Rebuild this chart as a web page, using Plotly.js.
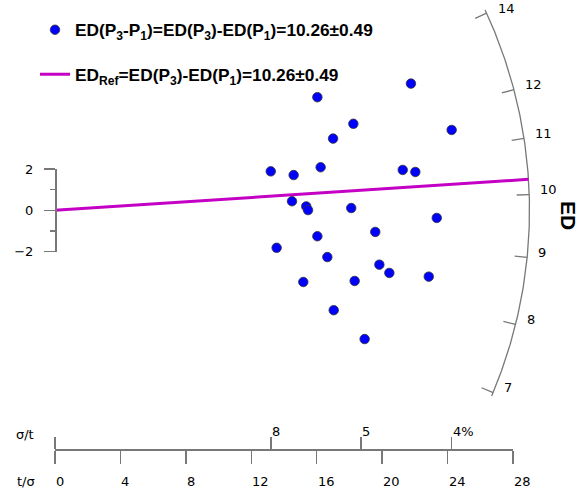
<!DOCTYPE html>
<html><head><meta charset="utf-8">
<script src="https://cdn.plot.ly/plotly-3.0.1.min.js"></script>
<style>html,body{margin:0;padding:0;background:#fff}#chart{width:580px;height:488px}</style>
</head><body><div id="chart"></div>
<script>
// ---- data ----
const tOverSigma = [21.76,16.04,18.24,24.25,17.00,13.19,14.59,16.24,21.26,22.03,14.49,15.36,15.47,18.11,23.34,19.58,16.04,13.55,16.65,19.83,20.44,15.18,18.32,22.85,17.04,18.93];
const standardizedEstimate = [6.15,5.49,4.20,3.90,3.48,1.89,1.71,2.09,1.96,1.86,0.44,0.19,0.01,0.11,-0.37,-1.05,-1.26,-1.82,-2.27,-2.64,-3.04,-3.48,-3.43,-3.22,-4.85,-6.25];
const centralED = 9.74;
const referenceED = 10.26;
const arcTickValues = [7,8,9,10,11,12,14];
const arcRange = [6.95,14.1];
const tTicks = [0,4,8,12,16,20,24,28];
const relErrTicks = [13.19,18.71,24.25];
const relErrLabels = ['8','5','4%'];
const zTicks = [-2,0,2];
const zTickText = ['\u22122','0','2'];
const pointName = 'ED(P<sub>3</sub>-P<sub>1</sub>)=ED(P<sub>3</sub>)-ED(P<sub>1</sub>)=10.26\u00b10.49';
const lineName = 'ED<sub>Ref</sub>=ED(P<sub>3</sub>)-ED(P<sub>1</sub>)=10.26\u00b10.49';

// ---- geometry ----
const W=580, H=488;
const ox=55, oy=210.3;        // origin in px
const pxX=16.357, pxY=20.6;   // px per unit
const R=474.5;                // arc radius (px)
const xr=[-ox/pxX, (W-ox)/pxX];
const yr=[(oy-H)/pxY, oy/pxY];
const z0=Math.log(centralED);
function polar(v, r){
  const s=Math.log(v)-z0;
  const phi=Math.atan2(pxY*s, pxX);
  return [r*Math.cos(phi)/pxX, r*Math.sin(phi)/pxY];
}
const axisCol='#787878';
const txtFont={family:'DejaVu Sans, Verdana, sans-serif', size:13, color:'#000'};

// arc
const arcX=[], arcY=[];
for(let i=0;i<=200;i++){
  const v=arcRange[0]*Math.pow(arcRange[1]/arcRange[0], i/200);
  const p=polar(v,R); arcX.push(p[0]); arcY.push(p[1]);
}
const tkX=[], tkY=[];
arcTickValues.forEach(v=>{
  const a=polar(v,R), b=polar(v,R-12.5);
  tkX.push(a[0],b[0],null); tkY.push(a[1],b[1],null);
});
const refEnd=polar(referenceED,R);

const traces=[
  {type:'scatter', mode:'lines', x:arcX, y:arcY, line:{color:axisCol,width:1.3}, showlegend:false, hoverinfo:'skip'},
  {type:'scatter', mode:'lines', x:tkX, y:tkY, line:{color:axisCol,width:1.3}, showlegend:false, hoverinfo:'skip'},
  {type:'scatter', mode:'lines', x:[0,refEnd[0]], y:[0,refEnd[1]], name:lineName, legendgroup:'b', legendrank:2,
   line:{color:'#c400c4', width:3}, hoverinfo:'skip'},
  {type:'scatter', mode:'markers', x:tOverSigma, y:standardizedEstimate, name:pointName, legendgroup:'a', legendrank:1,
   marker:{color:'#0000ff', size:9.5, line:{color:'#333', width:0.8}}, cliponaxis:false},
  {type:'scatter', mode:'markers', x:[null], y:[null], xaxis:'x2', yaxis:'y2', showlegend:false, hoverinfo:'skip'},
  {type:'scatter', mode:'markers', x:[null], y:[null], xaxis:'x3', yaxis:'y2', showlegend:false, hoverinfo:'skip'}
];

const annotations=[];
arcTickValues.forEach(v=>{
  const p=polar(v,R);
  annotations.push({xref:'x', yref:'y', x:p[0], y:p[1], text:String(v), showarrow:false,
    xanchor:'left', yanchor:'middle', xshift:9, yshift:5, font:txtFont});
});
tTicks.forEach(v=>{
  annotations.push({xref:'x2', yref:'paper', x:v, y:1-481/H, text:String(v), showarrow:false,
    xanchor:'left', yanchor:'middle', xshift:-1, font:txtFont});
});
relErrTicks.forEach((v,i)=>{
  annotations.push({xref:'x2', yref:'paper', x:v, y:1-431.7/H, text:relErrLabels[i], showarrow:false,
    xanchor:'left', yanchor:'middle', xshift:-1, font:txtFont});
});
annotations.push({xref:'paper', yref:'paper', x:25/W, y:1-434/H, text:'\u03c3/t', showarrow:false, xanchor:'center', yanchor:'middle', font:txtFont});
annotations.push({xref:'paper', yref:'paper', x:25.7/W, y:1-481/H, text:'t/\u03c3', showarrow:false, xanchor:'center', yanchor:'middle', font:txtFont});
annotations.push({xref:'paper', yref:'paper', x:569/W, y:1-215/H, text:'ED', textangle:90, showarrow:false, xanchor:'center', yanchor:'middle',
  font:{family:'Liberation Sans, Arial, sans-serif', size:21, color:'#000', weight:'bold'}});

const xDom=[ox/W, (ox+28*pxX)/W];
const layout={
  width:W, height:H, margin:{l:0,r:0,t:0,b:0}, paper_bgcolor:'#fff', plot_bgcolor:'rgba(0,0,0,0)',
  showlegend:true,
  xaxis:{visible:false, range:xr},
  yaxis:{visible:false, range:yr},
  xaxis2:{domain:xDom, range:[0,28], anchor:'free', position:1-449/H, showline:true, linecolor:axisCol, linewidth:1.5,
    ticks:'outside', ticklen:13, tickwidth:1.5, tickcolor:axisCol, tickmode:'array', tickvals:tTicks,
    showticklabels:false, showgrid:false, zeroline:false},
  xaxis3:{domain:xDom, range:[0,28], anchor:'free', position:1-449/H, side:'top', overlaying:'x2', showline:false,
    ticks:'outside', ticklen:12, tickwidth:1.5, tickcolor:axisCol, tickmode:'array', tickvals:[0].concat(relErrTicks),
    showticklabels:false, showgrid:false, zeroline:false},
  yaxis2:{domain:[1-(oy+2*pxY)/H, 1-(oy-2*pxY)/H], range:[-2,2], anchor:'free', position:ox/W, side:'left',
    showline:true, linecolor:axisCol, linewidth:1.5, ticks:'outside', ticklen:11, tickwidth:1.5, tickcolor:axisCol,
    tickmode:'array', tickvals:zTicks, ticktext:zTickText, tickfont:txtFont, ticklabelstandoff:8,
    minor:{tickmode:'array', tickvals:[-1,1], ticks:'outside', ticklen:5, tickwidth:1.5, tickcolor:axisCol},
    showgrid:false, zeroline:false},
  legend:{x:35/W, xanchor:'left', y:1-12/H, yanchor:'top', traceorder:'grouped', tracegroupgap:19,
    font:{family:'Liberation Sans, Arial, sans-serif', size:17.3, color:'#000', weight:'bold'},
    bgcolor:'rgba(0,0,0,0)', itemwidth:30},
  annotations:annotations
};
Plotly.newPlot('chart', traces, layout, {staticPlot:true, displayModeBar:false});
</script></body></html>
